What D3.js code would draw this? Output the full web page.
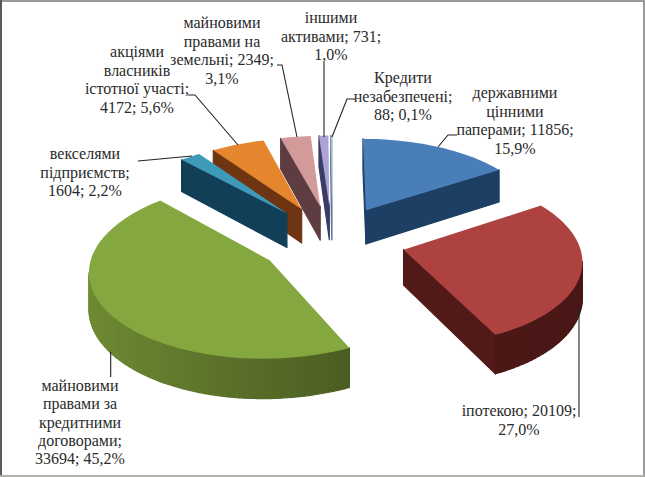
<!DOCTYPE html>
<html><head><meta charset="utf-8">
<script src="https://cdn.jsdelivr.net/npm/d3@7"></script>
<style>html,body{margin:0;padding:0;background:#fff}svg{display:block}text{font-family:"Liberation Serif",serif;font-size:16px;fill:#2a2a2a}</style>
</head><body><svg id="c" width="645" height="477"></svg>
<script>
const categories=["державними цінними паперами","іпотекою","майновими правами за кредитними договорами","векселями підприємств","акціями власників істотної участі","майновими правами на земельні","іншими активами","Кредити незабезпечені"];
const values=[11856,20109,33694,1604,4172,2349,731,88];
const topColors=["#4a7eb8","#ad4240","#84a73f","#3d9ab8","#e5862f","#d39a9a","#aaa4d6","#bcd6ec"];
const sideColors=["#1d3f63","#511a18","#6f8c34","#123f58","#6f3512","#5e3d42","#3c3a66","#5d7a94"];
const labelLines=[
["державними","цінними","паперами; 11856;","15,9%"],
["іпотекою; 20109;","27,0%"],
["майновими","правами за","кредитними","договорами;","33694; 45,2%"],
["векселями","підприємств;","1604; 2,2%"],
["акціями","власників","істотної участі;","4172; 5,6%"],
["майновими","правами на","земельні; 2349;","3,1%"],
["іншими","активами; 731;","1,0%"],
["Кредити","незабезпечені;","88; 0,1%"]];
// label centre x, first baseline y, line height
const labelPos=[[515,98,18.5],[519,416,18.5],[80,391,18.3],[85,159,18.5],[137,57,18.7],[222,28,18.5],[331,23,18.5],[403,83,18.5]];
const leaders=[
[[438,147],[448,135],[457,135]],
[[579,308],[579,417]],
[[110.7,352],[110.7,377]],
[[138,161],[192,156]],
[[188,95],[195,95],[238,145]],
[[277,65],[282,65],[297,137]],
[[324,62],[324,137]],
[[332,137],[347,99],[355,99]]];

const W=645,H=477;
const svg=d3.select("#c");
svg.append("rect").attr("width",W).attr("height",H).attr("fill","#fff");
const frame=[[0,0,W,2,"#9a9a9a"],[0,0,2,H,"#5a5a5a"],[W-2,0,2,H,"#9a9a9a"],[0,H-2,W,2,"#b0b0a8"]];
frame.forEach(f=>svg.append("rect").attr("x",f[0]).attr("y",f[1]).attr("width",f[2]).attr("height",f[3]).attr("fill",f[4]));

const cx=d3.scaleLinear().domain([-1,1]).range([332-175,332+175]);
const cy=d3.scaleLinear().domain([-1,1]).range([240-84,240+84]);
const explode=0.42,depth=35,persp=0.1;
function proj(u,w,z){const s=1/(1-persp*w);return [cx(u*s),cy(w*s)+z*depth*s];}
const pie=d3.pie().sort(null).value(d=>d)(values);
const slices=pie.map((p,i)=>{
  const mid=(p.startAngle+p.endAngle)/2;
  return {...p,i,ou:explode*Math.sin(mid),ow:-explode*Math.cos(mid)};
});
const line=d3.line();
const g=svg.append("g");
slices.slice().sort((a,b)=>a.ow-b.ow).forEach(s=>{
  const n=Math.max(2,Math.ceil((s.endAngle-s.startAngle)/0.03));
  const angs=d3.range(n+1).map(k=>s.startAngle+(s.endAngle-s.startAngle)*k/n);
  const P=(a,z)=>proj(s.ou+Math.sin(a),s.ow-Math.cos(a),z);
  const A=z=>proj(s.ou,s.ow,z);
  const base=d3.color(sideColors[s.i]);
  const wall=(pts,f)=>g.append("path").attr("d",line(pts)+"Z").attr("fill",f).attr("stroke",f).attr("stroke-width",1.2).attr("stroke-linejoin","round");
  const q1=[A(0),P(s.startAngle,0),P(s.startAngle,1),A(1)];
  const q2=[P(s.endAngle,0),A(0),A(1),P(s.endAngle,1)];
  const radial=s.i===2?"#3e4a1c":base;
  if(d3.polygonArea(q1)>0) wall(q1,radial);
  if(d3.polygonArea(q2)>0) wall(q2,radial);
  d3.pairs(angs).forEach(([a,b])=>{
    const q=[P(a,0),P(b,0),P(b,1),P(a,1)];
    if(d3.polygonArea(q)>0){
      const t=(Math.sin(-(a+b)/2)+1)/2; // shade runs from lit left to dark right
      wall(q,d3.interpolateRgb(s.i===2?"#3e4a1c":base.darker(0.3),base)(t));
    }
  });
  const top=[A(0),...angs.map(a=>P(a,0))];
  g.append("path").attr("d",line(top)+"Z").attr("fill",topColors[s.i]);
});
const lg=svg.append("g");
leaders.forEach(l=>lg.append("path").attr("d",line(l)).attr("fill","none").attr("stroke","#222").attr("stroke-width",1.1));
labelLines.forEach((ls,i)=>{
  const [x,y,lh]=labelPos[i];
  ls.forEach((t,k)=>svg.append("text").attr("x",x).attr("y",y+k*lh).attr("text-anchor","middle").text(t));
});
</script></body></html>
